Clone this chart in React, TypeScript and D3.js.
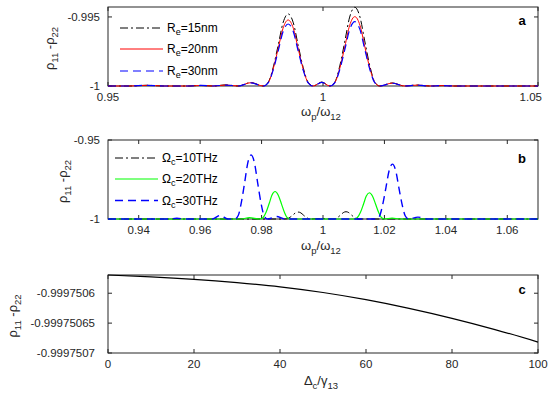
import React from "react"
import * as d3 from "d3"

// ---------- panel a : rho11 - rho22 vs wp/w12, three dot radii ----------
const aOmega = [
    0.95, 0.955, 0.959, 0.963, 0.9687, 0.9716, 0.9745, 0.9774, 0.9803, 0.9832, 0.9861,
    0.9873, 0.9884, 0.9896, 0.9907, 0.9919, 0.9931, 0.9942, 0.9954, 0.9965, 0.9977,
    0.9997, 1.0016,
    1.0028, 1.0039, 1.0051, 1.0062, 1.0074, 1.0086, 1.0097, 1.0109, 1.012, 1.0132,
    1.0161, 1.019, 1.0219, 1.0248, 1.0277, 1.0306, 1.035, 1.04, 1.045, 1.05,
]
const aRe15 = [
    -1, -1, -0.99995, -1, -1, -0.99996, -1, -0.99992, -1, -0.99975, -1,
    -0.99971, -0.99867, -0.99701, -0.99543, -0.99478, -0.99543, -0.99701, -0.99867, -0.99971, -1,
    -0.99972, -1,
    -0.99969, -0.99855, -0.99673, -0.99501, -0.9943, -0.99501, -0.99673, -0.99855, -0.99969, -1,
    -0.99978, -1, -0.99993, -1, -0.99997, -1, -1, -1, -1, -1,
]
const aRe20 = [
    -1, -1, -0.99995, -1, -1, -0.99996, -1, -0.99993, -1, -0.99976, -1,
    -0.99974, -0.99878, -0.99726, -0.99582, -0.99522, -0.99582, -0.99726, -0.99878, -0.99974, -1,
    -0.99973, -1,
    -0.99972, -0.99872, -0.99712, -0.99561, -0.99498, -0.99561, -0.99712, -0.99872, -0.99972, -1,
    -0.99979, -1, -0.99993, -1, -0.99997, -1, -1, -1, -1, -1,
]
const aRe30 = [
    -1, -1, -0.99995, -1, -1, -0.99996, -1, -0.99993, -1, -0.99977, -1,
    -0.99975, -0.99886, -0.99743, -0.99607, -0.99551, -0.99607, -0.99743, -0.99886, -0.99975, -1,
    -0.99974, -1,
    -0.99974, -0.99881, -0.99733, -0.99592, -0.99534, -0.99592, -0.99733, -0.99881, -0.99974, -1,
    -0.9998, -1, -0.99994, -1, -0.99997, -1, -1, -1, -1, -1,
]
const aXTicks = [0.95, 1, 1.05]
const aXTickLabels = ["0.95", "1", "1.05"]
const aYTicks = [-1, -0.995]
const aYTickLabels = ["-1", "-0.995"]

// ---------- panel b : three coupling strengths ----------
const b10X = [
    0.93, 0.95, 0.97, 0.98,
    0.9876, 0.9885, 0.9893, 0.9902, 0.991, 0.9919, 0.9928, 0.9936, 0.9945, 0.9953, 0.9962,
    0.9997,
    1.0032, 1.0041, 1.0049, 1.0058, 1.0066, 1.0075, 1.0084, 1.0092, 1.0101, 1.0109, 1.0118,
    1.02, 1.04, 1.07,
]
const b10Y = [
    -1, -1, -1, -1,
    -1, -0.99976, -0.99888, -0.99748, -0.99615, -0.9956, -0.99615, -0.99748, -0.99888, -0.99976, -1,
    -0.99975,
    -1, -0.99975, -0.99882, -0.99736, -0.99597, -0.9954, -0.99597, -0.99736, -0.99882, -0.99975, -1,
    -1, -1, -1,
]
const b20X = [
    0.93, 0.95, 0.97, 0.9735, 0.976,
    0.9795, 0.9805, 0.9815, 0.9825, 0.9834, 0.9844, 0.9854, 0.9864, 0.9874, 0.9883, 0.9893,
    0.995, 1.0, 1.005,
    1.0102, 1.0112, 1.0122, 1.0132, 1.0141, 1.0151, 1.0161, 1.0171, 1.0181, 1.019, 1.02,
    1.0225, 1.025, 1.04, 1.07,
]
const b20Y = [
    -1, -1, -1, -1, -0.9991,
    -1, -0.99904, -0.99556, -0.99003, -0.98477, -0.9826, -0.98477, -0.99003, -0.99556, -0.99904, -1,
    -1, -1, -1,
    -1, -0.99909, -0.99577, -0.99049, -0.98547, -0.9834, -0.98547, -0.99049, -0.99577, -0.99909, -1,
    -0.9994, -1, -1, -1,
]
const b30X = [
    0.93, 0.95, 0.9524, 0.955, 0.96, 0.964, 0.9665, 0.969,
    0.9713, 0.9724, 0.9734, 0.9745, 0.9755, 0.9766, 0.9777, 0.9787, 0.9798, 0.9808, 0.9819,
    0.9849, 0.9875, 0.995, 1.005,
    1.0173, 1.0184, 1.0194, 1.0205, 1.0215, 1.0226, 1.0237, 1.0247, 1.0258, 1.0268, 1.0279,
    1.0309, 1.034, 1.045, 1.07,
]
const b30Y = [
    -1, -1, -0.9995, -1, -1, -1, -0.9977, -1,
    -1, -0.9978, -0.9897, -0.9768, -0.9646, -0.9595, -0.9646, -0.9768, -0.9897, -0.9978, -1,
    -0.9984, -1, -1, -1,
    -1, -0.9981, -0.9912, -0.9801, -0.9696, -0.9653, -0.9696, -0.9801, -0.9912, -0.9981, -1,
    -0.9988, -1, -1, -1,
]
const bXTicks = [0.94, 0.96, 0.98, 1, 1.02, 1.04, 1.06]
const bXTickLabels = ["0.94", "0.96", "0.98", "1", "1.02", "1.04", "1.06"]
const bYTicks = [-1, -0.95]
const bYTickLabels = ["-1", "-0.95"]

// ---------- panel c : vs detuning ----------
const cDelta = [0, 10, 20, 30, 40, 50, 60, 70, 80, 90, 100]
const cRho = [
    -0.9997505695, -0.9997505725, -0.9997505767, -0.9997505823, -0.9997505893,
    -0.9997505988, -0.9997506108, -0.9997506253, -0.999750642, -0.9997506608,
    -0.9997506817,
]
const cXTicks = [0, 20, 40, 60, 80, 100]
const cXTickLabels = ["0", "20", "40", "60", "80", "100"]
const cYTicks = [-0.9997507, -0.99975065, -0.9997506]
const cYTickLabels = ["-0.9997507", "-0.99975065", "-0.9997506"]

const W = 550
const H = 397
const LEFT = 108
const RIGHT = 538
const FONT = "'Liberation Sans', Arial, Helvetica, sans-serif"
const INK = "#262626"
const DASHDOT = "8,3,2,3"
const DASHED = "8,5"

type Series = { x: number[]; y: number[]; color: string; dash?: string; width?: number }
type LegendRow = { color: string; dash?: string; width?: number; main: string; sub: string; rest: string }

function Panel(props: {
    top: number
    bottom: number
    xDomain: [number, number]
    yDomain: [number, number]
    xTicks: number[]
    xTickLabels: string[]
    yTicks: number[]
    yTickLabels: string[]
    yLabelX: number
    yTickX: number
    series: Series[]
    legend?: { x0: number; x1: number; tx: number; ys: number[]; rows: LegendRow[] }
    letter: string
    letterY: number
    xLabel: React.ReactNode
}) {
    const { top, bottom } = props
    const x = d3.scaleLinear().domain(props.xDomain).range([LEFT, RIGHT])
    const y = d3.scaleLinear().domain(props.yDomain).range([bottom, top])
    const tick = 4
    const makePath = (s: Series) =>
        d3
            .line<number>()
            .x((_, i) => x(s.x[i]))
            .y((d) => y(d))
            .curve(d3.curveMonotoneX)(s.y) || ""
    const midY = (top + bottom) / 2

    return (
        <g fontFamily={FONT}>
            <rect x={LEFT} y={top} width={RIGHT - LEFT} height={bottom - top} fill="white" stroke={INK} strokeWidth={1} />
            {props.xTicks.map((t, i) => (
                <g key={"xt" + i}>
                    <line x1={x(t)} x2={x(t)} y1={bottom} y2={bottom - tick} stroke={INK} />
                    <line x1={x(t)} x2={x(t)} y1={top} y2={top + tick} stroke={INK} />
                    <text
                        x={i === props.xTicks.length - 1 && props.xTickLabels[i] === "1.05" ? x(t) + 4 : x(t)}
                        y={bottom + 11}
                        dy="0.35em"
                        textAnchor={i === props.xTicks.length - 1 && props.xTickLabels[i] === "1.05" ? "end" : "middle"}
                        fontSize={11.5}
                        fill={INK}
                    >
                        {props.xTickLabels[i]}
                    </text>
                </g>
            ))}
            {props.yTicks.map((t, i) => (
                <g key={"yt" + i}>
                    <line x1={LEFT} x2={LEFT + tick} y1={y(t)} y2={y(t)} stroke={INK} />
                    <line x1={RIGHT} x2={RIGHT - tick} y1={y(t)} y2={y(t)} stroke={INK} />
                    <text x={props.yTickX} y={y(t)} dy="0.35em" textAnchor="end" fontSize={11.5} fill={INK}>
                        {props.yTickLabels[i]}
                    </text>
                </g>
            ))}
            {props.series.map((s, i) => (
                <path
                    key={"s" + i}
                    d={makePath(s)}
                    fill="none"
                    stroke={s.color}
                    strokeWidth={s.width ?? 1}
                    strokeDasharray={s.dash}
                />
            ))}
            {props.legend &&
                props.legend.rows.map((r, i) => (
                    <g key={"lg" + i}>
                        <line
                            x1={props.legend!.x0}
                            x2={props.legend!.x1}
                            y1={props.legend!.ys[i]}
                            y2={props.legend!.ys[i]}
                            stroke={r.color}
                            strokeWidth={r.width ?? 1}
                            strokeDasharray={r.dash}
                        />
                        <text x={props.legend!.tx} y={props.legend!.ys[i] + 4} fontSize={12} fill="#000">
                            {r.main}
                            <tspan dy={3} fontSize={9}>
                                {r.sub}
                            </tspan>
                            <tspan dy={-3}>{r.rest}</tspan>
                        </text>
                    </g>
                ))}
            <text x={522} y={props.letterY} textAnchor="middle" fontSize={13} fontWeight="bold" fill="#000">
                {props.letter}
            </text>
            <text
                transform={`translate(${props.yLabelX},${midY + 2}) rotate(-90)`}
                textAnchor="middle"
                fontSize={13}
                fill={INK}
            >
                ρ<tspan dy={4} fontSize={9.5}>11</tspan>
                <tspan dy={-4}> -ρ</tspan>
                <tspan dy={4} fontSize={9.5}>22</tspan>
            </text>
            {props.xLabel}
        </g>
    )
}

function XLabel({ y, a, b, c, d }: { y: number; a: string; b: string; c: string; d: string }) {
    return (
        <text x={321} y={y} textAnchor="middle" fontSize={13} fill={INK} fontFamily={FONT}>
            {a}
            <tspan dy={4} fontSize={9.5}>{b}</tspan>
            <tspan dy={-4}>{c}</tspan>
            <tspan dy={4} fontSize={9.5}>{d}</tspan>
        </text>
    )
}

export default function App() {
    return (
        <svg
            width={W}
            height={H}
            viewBox={`0 0 ${W} ${H}`}
            style={{ position: "absolute", left: 0, top: 0, background: "white" }}
        >
            <rect width={W} height={H} fill="white" />
            <Panel
                top={7}
                bottom={86}
                xDomain={[0.95, 1.05]}
                yDomain={[-1, -0.99428]}
                xTicks={aXTicks}
                xTickLabels={aXTickLabels}
                yTicks={aYTicks}
                yTickLabels={aYTickLabels}
                yTickX={100}
                yLabelX={54}
                series={[
                    { x: aOmega, y: aRe15, color: "#000", dash: DASHDOT },
                    { x: aOmega, y: aRe20, color: "#ff0000" },
                    { x: aOmega, y: aRe30, color: "#0000ff", dash: DASHED, width: 1.2 },
                ]}
                legend={{
                    x0: 120,
                    x1: 163,
                    tx: 167,
                    ys: [28, 49, 71],
                    rows: [
                        { color: "#000", dash: DASHDOT, main: "R", sub: "e", rest: "=15nm" },
                        { color: "#ff0000", main: "R", sub: "e", rest: "=20nm" },
                        { color: "#0000ff", dash: DASHED, width: 1.2, main: "R", sub: "e", rest: "=30nm" },
                    ],
                }}
                letter="a"
                letterY={25}
                xLabel={<XLabel y={116} a="ω" b="p" c="/ω" d="12" />}
            />
            <Panel
                top={140}
                bottom={219}
                xDomain={[0.93, 1.07]}
                yDomain={[-1, -0.95]}
                xTicks={bXTicks}
                xTickLabels={bXTickLabels}
                yTicks={bYTicks}
                yTickLabels={bYTickLabels}
                yTickX={100}
                yLabelX={67}
                series={[
                    { x: b10X, y: b10Y, color: "#000", dash: DASHDOT },
                    { x: b20X, y: b20Y, color: "#00ff00", width: 1.2 },
                    { x: b30X, y: b30Y, color: "#0000ff", dash: DASHED, width: 1.4 },
                ]}
                legend={{
                    x0: 115,
                    x1: 158,
                    tx: 162,
                    ys: [158, 179, 200.5],
                    rows: [
                        { color: "#000", dash: DASHDOT, main: "Ω", sub: "c", rest: "=10THz" },
                        { color: "#00ff00", width: 1.2, main: "Ω", sub: "c", rest: "=20THz" },
                        { color: "#0000ff", dash: DASHED, width: 1.4, main: "Ω", sub: "c", rest: "=30THz" },
                    ],
                }}
                letter="b"
                letterY={163}
                xLabel={<XLabel y={250} a="ω" b="p" c="/ω" d="12" />}
            />
            <Panel
                top={275}
                bottom={353}
                xDomain={[0, 100]}
                yDomain={[-0.9997507, -0.9997505695]}
                xTicks={cXTicks}
                xTickLabels={cXTickLabels}
                yTicks={cYTicks}
                yTickLabels={cYTickLabels}
                yTickX={95}
                yLabelX={17}
                series={[{ x: cDelta, y: cRho, color: "#000", width: 1.2 }]}
                letter="c"
                letterY={294}
                xLabel={<XLabel y={385} a="Δ" b="c" c="/γ" d="13" />}
            />
        </svg>
    )
}
